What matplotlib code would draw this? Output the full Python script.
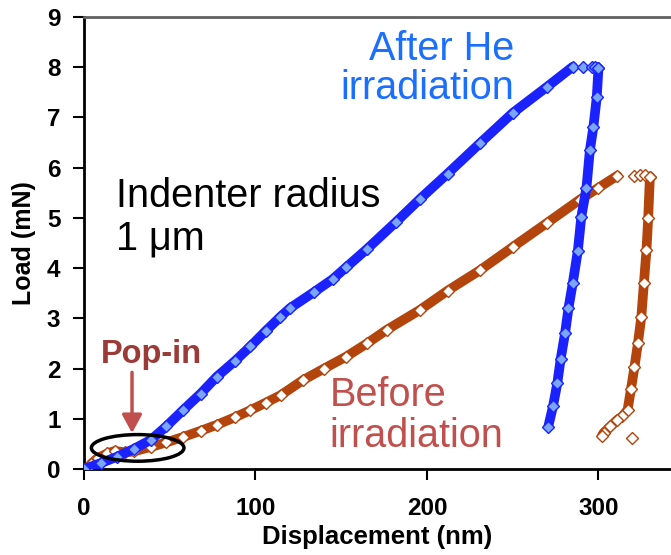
import matplotlib
matplotlib.use("Agg")
import matplotlib.pyplot as plt
from matplotlib.patches import Ellipse

plt.rcParams['font.family'] = ['Liberation Sans', 'DejaVu Sans']

# After He irradiation: loading, hold, unloading
he_load_x = [0, 10, 19, 29, 39, 48, 58, 68, 77.5, 88, 97, 106, 114.5, 120, 134, 145, 153,
             165, 182, 196, 212, 231, 250, 270, 285]
he_load_y = [0, 0.12, 0.24, 0.4, 0.58, 0.85, 1.18, 1.5, 1.84, 2.15, 2.44, 2.75, 3.03, 3.2,
             3.52, 3.78, 4.02, 4.38, 4.92, 5.38, 5.88, 6.49, 7.09, 7.61, 8.01]
he_hold_x = [291, 296, 298, 300]
he_hold_y = [8.0, 8.0, 8.0, 7.98]
he_unload_x = [300, 299, 297, 295, 293, 290, 288, 285, 282.5, 280.5, 278, 276, 273.5, 270.7]
he_unload_y = [7.98, 7.4, 6.8, 6.35, 5.6, 5.02, 4.35, 3.7, 3.2, 2.7, 2.2, 1.71, 1.25, 0.84]

# Before irradiation
bf_load_x = [4, 8, 13.6, 18, 24, 29, 39, 48, 58, 68, 77.5, 88, 97, 106, 114.7, 127.7, 140,
             153, 165, 176.5, 196, 212, 231, 250, 270, 289, 300, 311]
bf_load_y = [0.1, 0.22, 0.31, 0.36, 0.33, 0.35, 0.44, 0.53, 0.64, 0.76, 0.88, 1.03, 1.17,
             1.32, 1.47, 1.77, 2.0, 2.24, 2.5, 2.77, 3.17, 3.55, 3.96, 4.42, 4.90, 5.36,
             5.6, 5.84]
bf_hold_x = [321, 324, 327, 330]
bf_hold_y = [5.84, 5.85, 5.85, 5.82]
bf_unload_x = [330, 329, 328, 326.5, 325, 323, 321, 319, 317, 314, 311, 307, 303, 302]
bf_unload_y = [5.82, 5.0, 4.36, 3.7, 3.03, 2.5, 2.03, 1.6, 1.18, 1.05, 0.98, 0.85, 0.72, 0.66]
bf_extra_x = [319.5]
bf_extra_y = [0.62]

blue = '#1a22ff'
blue_face = '#7aa6ff'
brown = '#b3440c'

fig = plt.figure(figsize=(6.71, 5.55), dpi=100)
ax = fig.add_axes([84 / 671, 86 / 555, 1 - 84 / 671, 452 / 555])

# bands drawn as thick lines, markers on top at read points
for xs, ys in [(bf_load_x, bf_load_y), (bf_unload_x, bf_unload_y)]:
    ax.plot(xs, ys, color=brown, lw=7, solid_capstyle='round', zorder=2)
    ax.plot(xs, ys, ls='none', marker='D', ms=6, mec=brown, mfc='white', mew=1, zorder=3)
ax.plot(bf_hold_x, bf_hold_y, ls='none', marker='D', ms=6, mec=brown, mfc='white', mew=1, zorder=3)
ax.plot(bf_extra_x, bf_extra_y, ls='none', marker='D', ms=6, mec=brown, mfc='white', mew=1, zorder=3)

for xs, ys in [(he_load_x, he_load_y), (he_unload_x, he_unload_y)]:
    ax.plot(xs, ys, color=blue, lw=7, solid_capstyle='round', zorder=4)
    ax.plot(xs, ys, ls='none', marker='D', ms=6, mec=blue, mfc=blue_face, mew=1, zorder=5)
ax.plot(he_hold_x, he_hold_y, ls='none', marker='D', ms=6, mec=blue, mfc=blue_face, mew=1, zorder=5)

ax.set_xlim(0, 342.3)
ax.set_ylim(0, 9)
ax.set_xticks([0, 100, 200, 300])
ax.set_yticks(range(10))
ax.tick_params(direction='out', length=8, width=1.5, labelsize=17.5)
ax.tick_params(axis='x', pad=12)
ax.tick_params(axis='y', pad=9)
for lab in ax.get_xticklabels() + ax.get_yticklabels():
    lab.set_fontweight('bold')
ax.spines['right'].set_visible(False)
ax.spines['left'].set_linewidth(2)
ax.spines['bottom'].set_linewidth(2)
ax.spines['top'].set_color('#606060')
ax.spines['top'].set_linewidth(2)

ax.set_xlabel('Displacement (nm)', fontsize=18.5, fontweight='bold', labelpad=4)
ax.set_ylabel('Load (mN)', fontsize=18, fontweight='bold', labelpad=8)

ax.text(0.733, 0.972, 'After He\nirradiation', transform=ax.transAxes, ha='right', va='top',
        fontsize=28.5, color='#1a6fff', linespacing=1.05)
ax.text(0.055, 0.645, 'Indenter radius\n1 μm', transform=ax.transAxes, ha='left', va='top',
        fontsize=28.5, color='black', linespacing=1.12)
ax.text(0.418, 0.205, 'Before\nirradiation', transform=ax.transAxes, ha='left', va='top',
        fontsize=28.5, color='#c0504d', linespacing=1.1)
ax.text(10.0, 2.11, 'Pop-in', fontsize=23.5, fontweight='bold', color='#9b3b37',
        ha='left', va='baseline')

ax.annotate('', xy=(28, 0.66), xytext=(28, 1.98),
            arrowprops=dict(arrowstyle='-|>,head_width=0.6,head_length=1.1', color='#c0504d', lw=2.5),
            zorder=6)
ax.add_patch(Ellipse((31.3, 0.42), 54, 0.53, fill=False, edgecolor='black', lw=2.5, zorder=7))

fig.savefig('out.png', dpi=100)
